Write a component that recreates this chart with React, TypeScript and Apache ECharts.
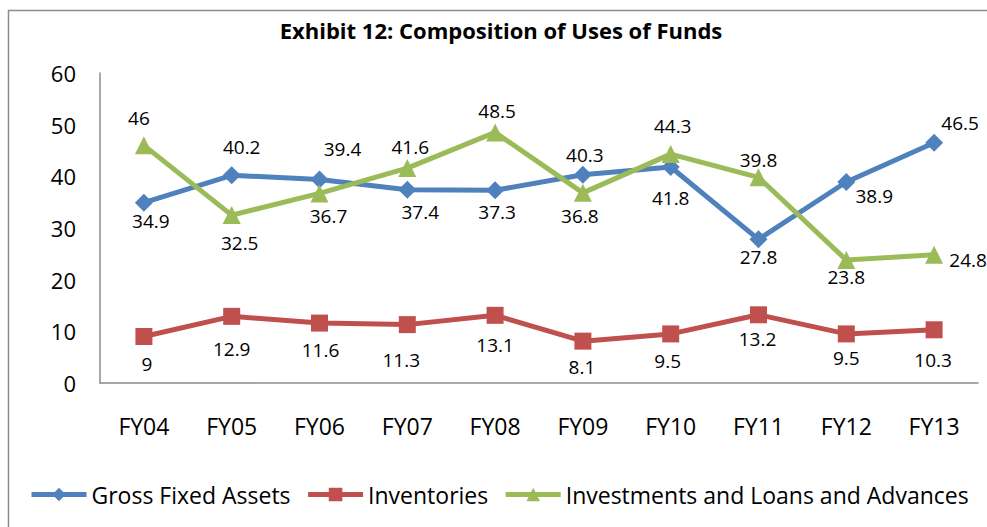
import React, { useEffect, useRef } from "react";
import * as echarts from "echarts";

const categories = ["FY04", "FY05", "FY06", "FY07", "FY08", "FY09", "FY10", "FY11", "FY12", "FY13"];
const grossFixedAssets = [34.9, 40.2, 39.4, 37.4, 37.3, 40.3, 41.8, 27.8, 38.9, 46.5];
const inventories = [9, 12.9, 11.6, 11.3, 13.1, 8.1, 9.5, 13.2, 9.5, 10.3];
const investments = [46, 32.5, 36.7, 41.6, 48.5, 36.8, 44.3, 39.8, 23.8, 24.8];
const yTicks = { min: 0, max: 60, interval: 10 };

// label offsets (dx, dy) from the point centre
const blueLabelOffsets = [[7, 18], [10, -28], [23, -30], [13, 22], [2, 22], [2, -20], [0, 31], [0, 18], [28, 14], [26, -20]];
const greenLabelOffsets = [[-5, -27], [8, 28], [9, 23], [3, -21], [2, -21], [-3, 23], [2, -28], [0, -17], [0, 17], [34, 5]];
const redLabelOffsets = [[3, 27], [0, 33], [1, 27], [-6, 35], [0, 30], [-1, 26], [-3, 27], [-1, 24], [0, 24], [-1, 30]];

const FONT = "Open Sans";

function withLabels(values: number[], offsets: number[][]) {
  return values.map((v, i) => ({
    value: v,
    label: { offset: offsets[i] },
  }));
}

export default function App() {
  const ref = useRef<HTMLDivElement>(null);
  useEffect(() => {
    document.body.style.margin = "0";
    const chart = echarts.init(ref.current!, undefined, { renderer: "svg" });
    const labelBase = {
      show: true,
      position: "inside" as const,
      color: "#000",
      fontSize: 19,
      fontFamily: FONT,
    };
    const lineSeries = (name: string, color: string, symbol: string, size: number, data: any[]) => ({
      name,
      type: "line",
      data,
      symbol,
      symbolSize: size,
      lineStyle: { color, width: 5 },
      itemStyle: { color },
      label: labelBase,
      emphasis: { disabled: true },
    });
    chart.setOption({
      animation: false,
      textStyle: { fontFamily: FONT },
      graphic: [
        {
          type: "rect",
          shape: { x: 8.5, y: 10.5, width: 1200, height: 800 },
          style: { fill: "none", stroke: "#8c8c8c", lineWidth: 1.5 },
          silent: true,
        },
      ],
      title: {
        text: "Exhibit 12: Composition of Uses of Funds",
        left: 496,
        textAlign: "center",
        top: 14,
        textStyle: { fontFamily: FONT, fontWeight: "bold", fontSize: 22, color: "#000" },
      },
      legend: {
        left: 29,
        top: 483,
        width: 958,
        padding: 0,
        itemWidth: 55,
        itemHeight: 17,
        itemGap: 15,
        lineStyle: { width: 5 },
        textStyle: { fontFamily: FONT, fontSize: 23, color: "#000" },
        data: ["Gross Fixed Assets", "Inventories", "Investments and Loans and Advances"],
      },
      grid: { left: 100, right: 9, top: 73, bottom: 144 },
      xAxis: {
        type: "category",
        data: categories,
        boundaryGap: true,
        axisLine: { lineStyle: { color: "#8c8c8c", width: 1.5 } },
        axisTick: { show: false },
        axisLabel: { color: "#000", fontSize: 23, fontFamily: FONT, margin: 31 },
      },
      yAxis: {
        type: "value",
        min: yTicks.min,
        max: yTicks.max,
        interval: yTicks.interval,
        splitLine: { show: false },
        axisLine: { show: true, lineStyle: { color: "#8c8c8c", width: 1.5 } },
        axisTick: { show: false },
        axisLabel: { color: "#000", fontSize: 22, fontFamily: FONT, margin: 24 },
      },
      series: [
        lineSeries("Gross Fixed Assets", "#4F81BD", "diamond", 18, withLabels(grossFixedAssets, blueLabelOffsets)),
        lineSeries("Inventories", "#C0504D", "rect", 17, withLabels(inventories, redLabelOffsets)),
        lineSeries("Investments and Loans and Advances", "#9BBB59", "triangle", 18, withLabels(investments, greenLabelOffsets)),
      ],
    });
    return () => chart.dispose();
  }, []);
  return <div ref={ref} style={{ width: 987, height: 527 }} />;
}
